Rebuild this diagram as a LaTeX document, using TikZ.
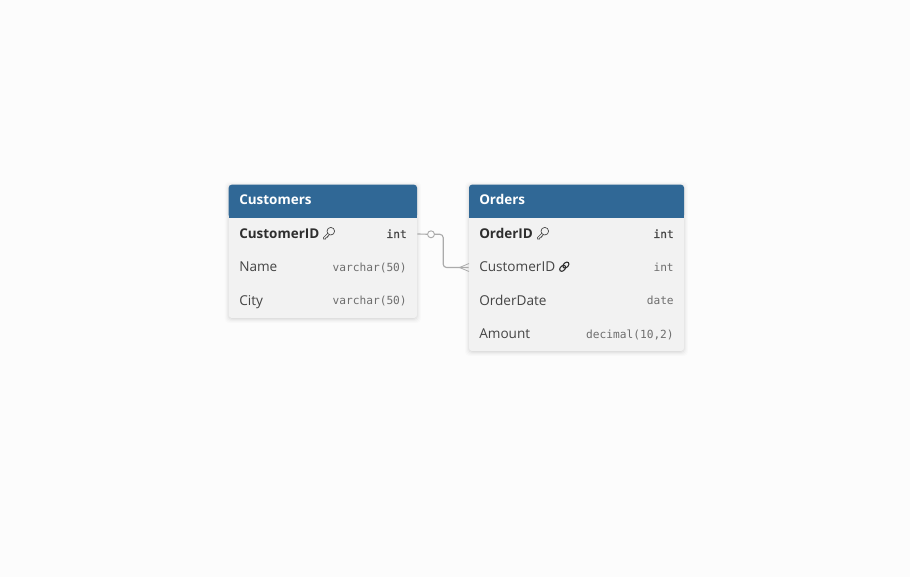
\documentclass[tikz,border=0pt]{standalone}
\usepackage{fontspec}
\setmainfont{Open Sans}
\newfontfamily\monof{DejaVu Sans Mono}
\newfontfamily\monokf[FakeBold=0.5]{DejaVu Sans Mono}
\definecolor{bgc}{HTML}{FCFCFC}
\definecolor{headc}{HTML}{306896}
\definecolor{rowc}{HTML}{F2F2F2}
\definecolor{namec}{HTML}{444444}
\definecolor{boldc}{HTML}{2E2E2E}
\definecolor{typec}{HTML}{6E6E6E}
\definecolor{linec}{HTML}{ABABAB}
\tikzset{
  x=0.75pt,y=-0.75pt,
  rowbox/.style={inner sep=0pt,minimum height=24.75pt,anchor=center},
  cname/.style={anchor=base west,inner sep=0pt,font=\fontsize{10.2}{12}\selectfont,text=namec},
  kname/.style={anchor=base west,inner sep=0pt,font=\fontsize{10.1}{12}\selectfont\bfseries,text=boldc},
  ctype/.style={anchor=base east,inner sep=0pt,font=\monof\fontsize{8.4}{11}\selectfont,text=typec},
  ktype/.style={anchor=base east,inner sep=0pt,font=\monokf\fontsize{8.4}{11}\selectfont,text=namec},
  title/.style={anchor=base west,inner sep=0pt,font=\fontsize{10.1}{12}\selectfont\bfseries,text=white},
  conn/.style={draw=linec,line width=0.85pt},
  icon/.style={draw=namec,line width=0.5pt,fill=none,line cap=round,line join=round},
}
\newcommand{\tablebox}[4]{% x1 y1 x2 y2
  \foreach \g/\o in {4/0.012,3/0.016,2/0.022,1/0.03,0/0.04}{
    \fill[black,opacity=\o,rounded corners=3pt] (#1-\g,#2-\g+1) rectangle (#3+\g,#4+\g+1);
  }
  \fill[rowc,rounded corners=2.2pt] (#1,#2) rectangle (#3,#4);
  \fill[headc,rounded corners=2.2pt] (#1,218) -- (#1,#2) -- (#3,#2) -- (#3,218) -- cycle;
  \fill[headc] (#1,212) rectangle (#3,218);
}
\newcommand{\keyicon}[2]{% x y of centre
  \begin{scope}[shift={(#1,#2)}]
    \draw[icon] (1.8,-1.8) circle[radius=3.8];
    \draw[icon] (-1.2,0.2) -- (-5.6,4.6) -- (-5.6,6) -- (-3.2,6) -- (-3.2,4.6) -- (-1.8,4.6) -- (-1.8,3.2) -- (-0.8,3.2) -- (0.2,1.8);
  \end{scope}
}
\newcommand{\linkicon}[2]{%
  \begin{scope}[shift={(#1,#2)},rotate=45]
    \draw[icon,draw=boldc,line width=0.8pt,rounded corners=1.8pt] (-1.2,-2.2) rectangle (5.8,2.2);
    \draw[icon,draw=boldc,line width=0.8pt,rounded corners=1.8pt] (-5.8,-2.2) rectangle (1.2,2.2);
  \end{scope}
}
\begin{document}
\begin{tikzpicture}
\useasboundingbox (0,0) rectangle (910,577);
\fill[bgc] (0,0) rectangle (910,577);
\tablebox{228.7}{184.7}{417}{318}
\tablebox{469}{184.7}{684}{351}

% row nodes (connector ends)
\node[rowbox,minimum width=141.3pt] (c1) at (322.85,234) {};
\node[rowbox,minimum width=161.3pt] (o2) at (576.5,267.5) {};
\coordinate (bend) at (443.2,250);
\node[circle,draw=linec,line width=0.7pt,fill=bgc,minimum size=5.2pt,inner sep=0pt] (opt) at (431,234.3) {};
\coordinate (crow) at (459.5,267.5);
\coordinate (crowa) at (469,263.5);
\coordinate (crowb) at (469,271.5);

\draw[conn] (c1.east) -- (opt);
\draw[conn,rounded corners=2.5pt] (opt) -- (opt -| bend) -- (o2.west -| bend) -- (o2.west);
\draw[conn,line width=0.6pt] (crow) -- (crowa) (crow) -- (crowb);

% Customers
\node[title] (ct) at (239,205) {Customers};
\node[kname] (c1n) at (239,238.4) {CustomerID};
\keyicon{329}{233}
\node[ktype] (c1t) at (407,238) {int};
\node[cname] (c2n) at (239,271.6) {Name};
\node[ctype] (c2t) at (407,271.2) {varchar(50)};
\node[cname] (c3n) at (239,305.4) {City};
\node[ctype] (c3t) at (407,305) {varchar(50)};

% Orders
\node[title] (ot) at (479,205) {Orders};
\node[kname] (o1n) at (479,238.4) {OrderID};
\keyicon{543}{233}
\node[ktype] (o1t) at (674,238) {int};
\node[cname] (o2n) at (479,271.6) {CustomerID};
\linkicon{564.3}{266.7}
\node[ctype] (o2t) at (674,271.2) {int};
\node[cname] (o3n) at (479,305.4) {OrderDate};
\node[ctype] (o3t) at (674,305) {date};
\node[cname] (o4n) at (479,338.2) {Amount};
\node[ctype] (o4t) at (674,338) {decimal(10,2)};
\end{tikzpicture}
\end{document}
